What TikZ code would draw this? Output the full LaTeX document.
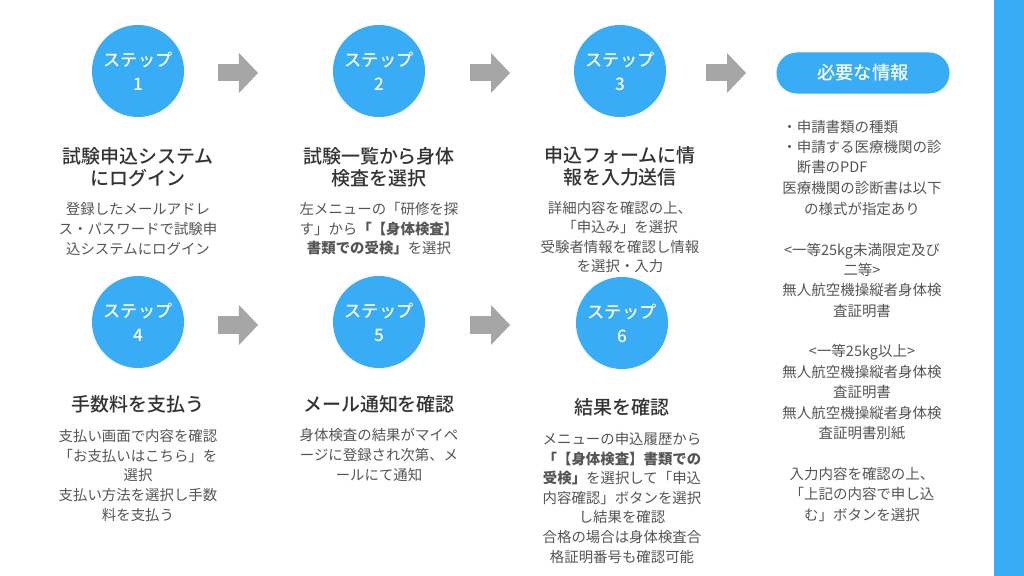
\documentclass[tikz,border=0pt]{standalone}
\usepackage{fontspec}
\setmainfont{Noto Sans CJK JP}
\IfFontExistsTF{Noto Sans CJK JP Medium}{\newfontfamily\midfont{Noto Sans CJK JP Medium}}{\newfontfamily\midfont{Noto Sans CJK JP}}
\usepackage{xcolor}
\usepackage{tikz}
\usetikzlibrary{arrows.meta}

\definecolor{stepblue}{HTML}{38ADF5}
\definecolor{arrowgray}{HTML}{A6A6A6}
\definecolor{titlegray}{HTML}{333333}
\definecolor{textgray}{HTML}{555555}

\begin{document}
\begin{tikzpicture}[x=0.025cm,y=-0.025cm]
    \tikzstyle{stepcircle} = [circle,fill=stepblue,text=white,minimum size=2.3cm,inner sep=0pt,align=center,font=\midfont\fontsize{12.2}{17}\selectfont]
    \tikzstyle{steptitle} = [align=center,text=titlegray,inner sep=0pt,font=\midfont\fontsize{13.5}{15.6}\selectfont]
    \tikzstyle{stepbody} = [align=center,text=textgray,inner sep=0pt,font=\fontsize{10.25}{13.9}\selectfont]
    \tikzstyle{infobody} = [text=textgray,inner sep=0pt,font=\fontsize{10.3}{14.5}\selectfont]
    \tikzstyle{nextarrow} = [line width=0.425cm,draw=arrowgray,-{Triangle[length=0.475cm,width=1cm,line width=0pt]}]
    \useasboundingbox (0,0) rectangle (1024,576);
    \fill[white] (0,0) rectangle (1024,576);
    \fill[stepblue] (994,0) rectangle (1024,576);

    % upper row
    \node[stepcircle] (s1) at (138,71) {ステップ\\1};
    \node[stepcircle] (s2) at (379,71) {ステップ\\2};
    \node[stepcircle] (s3) at (620,71) {ステップ\\3};

    \node[steptitle] (t1) at (138,167) {試験申込システム\\にログイン};
    \node[steptitle] (t2) at (379,167) {試験一覧から身体\\検査を選択};
    \node[steptitle] (t3) at (620,166.5) {申込フォームに情\\報を入力送信};

    \node[stepbody] (b1) at (138,229) {登録したメールアドレ\\ス・パスワードで試験申\\込システムにログイン};
    \node[stepbody] (b2) at (379,229) {左メニューの「研修を探\\す」から\textbf{「【身体検査】}\\\textbf{書類での受検」}を選択};
    \node[stepbody] (b3) at (620,237) {詳細内容を確認の上、\\「申込み」を選択\\受験者情報を確認し情報\\を選択・入力};

    \coordinate (a1s) at (218,73);
    \coordinate (a1e) at (258,73);
    \coordinate (a2s) at (470,73);
    \coordinate (a2e) at (510,73);
    \coordinate (a3s) at (706,73);
    \coordinate (a3e) at (746,73);
    \draw[nextarrow] (a1s) -- (a1e);
    \draw[nextarrow] (a2s) -- (a2e);
    \draw[nextarrow] (a3s) -- (a3e);

    % lower row
    \node[stepcircle] (s4) at (138,322) {ステップ\\4};
    \node[stepcircle] (s5) at (379,322) {ステップ\\5};
    \node[stepcircle] (s6) at (622,323) {ステップ\\6};

    \node[steptitle] (t4) at (138,404) {手数料を支払う};
    \node[steptitle] (t5) at (379,404) {メール通知を確認};
    \node[steptitle] (t6) at (622,407) {結果を確認};

    \node[stepbody] (b4) at (138,475.5) {支払い画面で内容を確認\\「お支払いはこちら」を\\選択\\支払い方法を選択し手数\\料を支払う};
    \node[stepbody] (b5) at (379,455) {身体検査の結果がマイペ\\ージに登録され次第、メ\\ールにて通知};
    \node[stepbody] (b6) at (622,498) {メニューの申込履歴から\\\textbf{「【身体検査】書類での}\\\textbf{受検」}を選択して「申込\\内容確認」ボタンを選択\\し結果を確認\\合格の場合は身体検査合\\格証明番号も確認可能};

    \coordinate (a4s) at (218,325);
    \coordinate (a4e) at (258,325);
    \coordinate (a5s) at (470,325);
    \coordinate (a5e) at (510,325);
    \draw[nextarrow] (a4s) -- (a4e);
    \draw[nextarrow] (a5s) -- (a5e);

    % required information
    \node[fill=stepblue,text=white,rounded corners=0.5125cm,minimum width=4.325cm,minimum height=1.025cm,inner sep=0pt,font=\midfont\fontsize{13}{15}\selectfont] (info) at (863,73) {必要な情報};
    \node[infobody,align=left,anchor=west] (ilist) at (782,147) {・申請書類の種類\\・申請する医療機関の診\\\hspace*{1em}断書のPDF};
    \node[infobody,align=center] (idoc) at (862,351.5) {医療機関の診断書は以下\\の様式が指定あり\\[14.5pt]<一等25kg未満限定及び\\二等>\\無人航空機操縦者身体検\\査証明書\\[14.5pt]<一等25kg以上>\\無人航空機操縦者身体検\\査証明書\\無人航空機操縦者身体検\\査証明書別紙\\[14.5pt]入力内容を確認の上、\\「上記の内容で申し込\\む」ボタンを選択};

\end{tikzpicture}
\end{document}
